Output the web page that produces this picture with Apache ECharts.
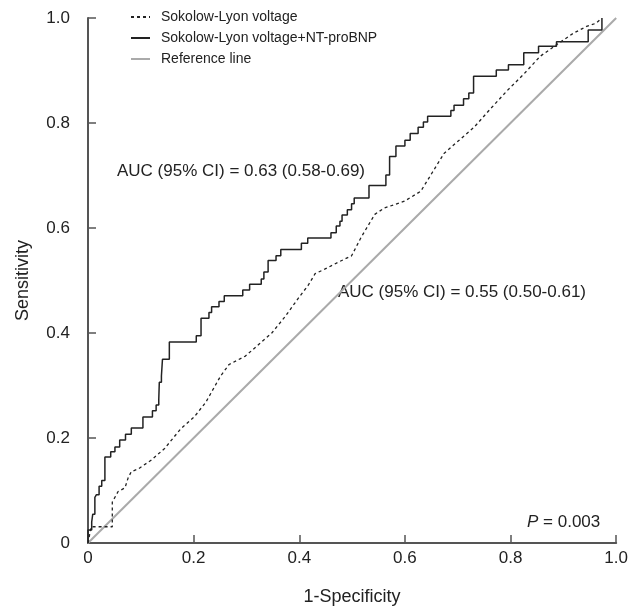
<!DOCTYPE html>
<html>
<head>
<meta charset="utf-8">
<script src="https://cdn.jsdelivr.net/npm/echarts@6/dist/echarts.min.js"></script>
<style>
  html, body { margin: 0; padding: 0; background: #fff; }
  #chart { width: 631px; height: 611px; }
</style>
</head>
<body>
<div id="chart"></div>
<script>
// Sokolow-Lyon voltage + NT-proBNP (stepwise ROC)
var comboFpr = [0, 0, 0.007, 0.009, 0.013, 0.016, 0.021, 0.026, 0.032, 0.043, 0.051, 0.060, 0.071, 0.082, 0.104,
  0.122, 0.129, 0.134, 0.135, 0.139, 0.141, 0.154, 0.205, 0.214, 0.229, 0.234, 0.248, 0.258, 0.293, 0.306,
  0.328, 0.333, 0.341, 0.356, 0.365, 0.404, 0.416, 0.460, 0.470, 0.477, 0.481, 0.491, 0.499, 0.504, 0.532,
  0.564, 0.571, 0.583, 0.600, 0.610, 0.625, 0.635, 0.643, 0.687, 0.693, 0.711, 0.721, 0.730, 0.773, 0.796,
  0.825, 0.853, 0.887, 0.947, 0.973];
var comboTpr = [0, 0.025, 0.040, 0.055, 0.087, 0.092, 0.108, 0.119, 0.164, 0.174, 0.183, 0.196, 0.207, 0.219, 0.240,
  0.252, 0.263, 0.274, 0.306, 0.318, 0.350, 0.383, 0.395, 0.428, 0.439, 0.450, 0.460, 0.471, 0.482, 0.493,
  0.503, 0.516, 0.538, 0.547, 0.559, 0.571, 0.581, 0.591, 0.604, 0.613, 0.625, 0.635, 0.646, 0.657, 0.681,
  0.701, 0.736, 0.756, 0.767, 0.780, 0.792, 0.802, 0.813, 0.824, 0.834, 0.846, 0.857, 0.889, 0.901, 0.911,
  0.934, 0.946, 0.955, 0.977, 1.0];

// Sokolow-Lyon voltage alone
var slvFpr = [0, 0.006, 0.046, 0.046, 0.057, 0.070, 0.076, 0.082, 0.095, 0.120, 0.145, 0.176, 0.201, 0.223,
  0.251, 0.267, 0.298, 0.323, 0.348, 0.373, 0.398, 0.417, 0.430, 0.449, 0.474, 0.499, 0.517, 0.543, 0.561,
  0.599, 0.630, 0.649, 0.674, 0.699, 0.731, 0.762, 0.793, 0.825, 0.856, 0.887, 0.919, 0.944, 0.962, 0.972];
var slvTpr = [0, 0.031, 0.031, 0.078, 0.098, 0.105, 0.124, 0.136, 0.141, 0.158, 0.180, 0.218, 0.240, 0.268,
  0.318, 0.340, 0.356, 0.378, 0.400, 0.431, 0.466, 0.491, 0.513, 0.522, 0.535, 0.547, 0.582, 0.626, 0.638,
  0.651, 0.670, 0.701, 0.742, 0.764, 0.792, 0.827, 0.861, 0.893, 0.927, 0.949, 0.971, 0.984, 0.990, 0.999];

var refLine = [[0, 0], [1, 1]];
var tickValues = [0, 0.2, 0.4, 0.6, 0.8, 1.0];
var tickLabels = ['0', '0.2', '0.4', '0.6', '0.8', '1.0'];

var seriesNames = ['Sokolow-Lyon voltage', 'Sokolow-Lyon voltage+NT-proBNP', 'Reference line'];
var aucTexts = ['AUC (95% CI) = 0.63 (0.58-0.69)', 'AUC (95% CI) = 0.55 (0.50-0.61)'];
var pText = '0.003';

function pairs(xs, ys) {
  return xs.map(function (x, i) { return [x, ys[i]]; });
}
function tickFmt(v) {
  var i = tickValues.indexOf(Math.round(v * 10) / 10);
  return i >= 0 ? tickLabels[i] : '';
}

var font = '"Liberation Sans Narrow", "Liberation Sans", Arial, sans-serif';
var axisColor = '#555';
var inkColor = '#222';

var axisCommon = {
  type: 'value',
  min: 0,
  max: 1,
  interval: 0.2,
  splitLine: { show: false },
  axisLine: { show: true, lineStyle: { color: axisColor, width: 2 } },
  axisTick: { show: true, inside: true, length: 8, lineStyle: { color: axisColor, width: 1.5 } },
  nameLocation: 'middle',
  nameTextStyle: { fontFamily: font, fontSize: 18, color: inkColor }
};

var chart = echarts.init(document.getElementById('chart'), null, { renderer: 'canvas' });

var option = {
  backgroundColor: '#fff',
  animation: false,
  grid: { left: 88, right: 11, top: 18, bottom: 62 },
  legend: {
    orient: 'vertical',
    left: 130,
    top: 10,
    padding: 0,
    itemWidth: 19,
    itemHeight: 12,
    itemGap: 7,
    data: seriesNames,
    itemStyle: { color: 'transparent', borderWidth: 0 },
    textStyle: { fontFamily: font, fontSize: 14, color: inkColor, padding: [0, 0, 0, 6] }
  },
  xAxis: Object.assign({}, axisCommon, {
    name: '1-Specificity',
    nameGap: 45,
    axisLabel: { formatter: tickFmt, margin: 7, fontFamily: font, fontSize: 17, color: inkColor }
  }),
  yAxis: Object.assign({}, axisCommon, {
    name: 'Sensitivity',
    nameGap: 56,
    axisLabel: { formatter: tickFmt, margin: 18, fontFamily: font, fontSize: 17, color: inkColor }
  }),
  series: [
    {
      name: seriesNames[0],
      type: 'line',
      symbol: 'none',
      data: pairs(slvFpr, slvTpr),
      lineStyle: { color: inkColor, width: 1.3, type: [3, 3] },
      itemStyle: { color: inkColor },
      z: 3
    },
    {
      name: seriesNames[1],
      type: 'line',
      symbol: 'none',
      step: 'end',
      data: pairs(comboFpr, comboTpr),
      lineStyle: { color: inkColor, width: 1.5 },
      itemStyle: { color: inkColor },
      z: 4
    },
    {
      name: seriesNames[2],
      type: 'line',
      symbol: 'none',
      data: refLine,
      lineStyle: { color: '#aaa', width: 2 },
      itemStyle: { color: '#aaa' },
      z: 2
    }
  ],
  graphic: [
    {
      type: 'text', left: 117, top: 163,
      style: { text: aucTexts[0], font: '17px ' + font, fill: inkColor }
    },
    {
      type: 'text', left: 338, top: 284,
      style: { text: aucTexts[1], font: '17px ' + font, fill: inkColor }
    },
    {
      type: 'text', left: 527, top: 514,
      style: {
        text: '{i|P} = ' + pText,
        font: '17px ' + font,
        fill: inkColor,
        rich: { i: { fontStyle: 'italic', fontFamily: font, fontSize: 17, fill: inkColor } }
      }
    }
  ]
};

chart.setOption(option);
</script>
</body>
</html>
